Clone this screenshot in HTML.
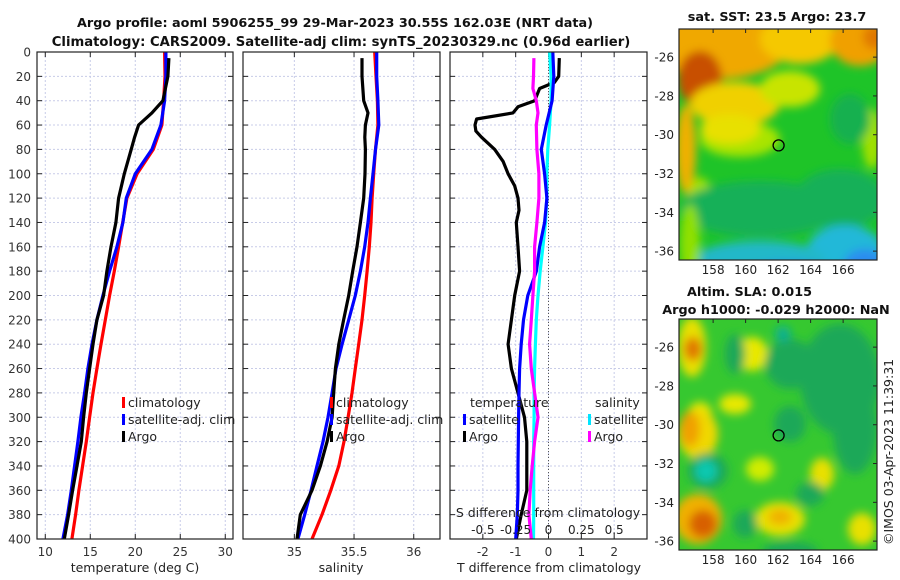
<!DOCTYPE html>
<html><head><meta charset="utf-8"><style>
body{margin:0;background:#fff}
svg{display:block;font-family:"DejaVu Sans","Liberation Sans",sans-serif}
</style></head><body>
<svg id="c" width="900" height="580" viewBox="0 0 900 580" xmlns="http://www.w3.org/2000/svg">
<defs>
<filter id="bl" x="-20%" y="-20%" width="140%" height="140%"><feGaussianBlur stdDeviation="4.5"/></filter>
<clipPath id="m1c"><rect x="679" y="29" width="198" height="231"/></clipPath>
<clipPath id="m2c"><rect x="679" y="319" width="198" height="231"/></clipPath>
<clipPath id="p1c"><rect x="37" y="52" width="196" height="487"/></clipPath>
<clipPath id="p2c"><rect x="243" y="52" width="197" height="487"/></clipPath>
<clipPath id="p3c"><rect x="450" y="52" width="197" height="487"/></clipPath>
</defs>
<text x="335" y="27" font-size="12.8" font-weight="bold" text-anchor="middle" fill="#111">Argo profile: aoml 5906255_99 29-Mar-2023 30.55S 162.03E (NRT data)</text>
<text x="341" y="46" font-size="13.2" font-weight="bold" text-anchor="middle" fill="#111">Climatology: CARS2009. Satellite-adj clim: synTS_20230329.nc (0.96d earlier)</text>
<text x="777" y="21" font-size="12.8" font-weight="bold" text-anchor="middle" fill="#111">sat. SST: 23.5 Argo: 23.7</text>
<text x="687" y="296" font-size="12.8" font-weight="bold" fill="#111">Altim. SLA: 0.015</text>
<text x="776" y="314" font-size="12.8" font-weight="bold" text-anchor="middle" fill="#111">Argo h1000: -0.029 h2000: NaN</text>
<text transform="translate(893,545) rotate(-90)" font-size="12.5" fill="#222">©IMOS 03-Apr-2023 11:39:31</text>
<g id="g"></g>
</svg>
<script>
// ---- data (depth in dbar) ----
const depths=[0,20,40,60,80,100,120,140,160,180,200,220,240,260,280,300,320,340,360,380,400];
const argoDepths=[5,20,40,50,60,70,80,100,120,140,160,180,200,220,240,260,280,300,320,340,360,380,400];
const tempClim=[23.26,23.3,23.15,22.96,22.0,20.2,19.07,18.6,18.15,17.67,17.15,16.67,16.19,15.74,15.3,14.93,14.56,14.15,13.74,13.37,12.96];
const tempSat=[23.4,23.4,23.26,22.85,21.85,20.0,19.0,18.63,17.96,17.15,16.4,15.74,15.19,14.74,14.37,13.96,13.63,13.26,12.89,12.48,11.96];
const tempArgo=[23.74,23.63,23.07,21.85,20.37,19.93,19.55,18.78,18.15,17.85,17.3,16.85,16.48,15.74,15.3,14.93,14.56,14.26,14.0,13.52,13.04,12.59,12.11];
const salClim=[35.673,35.684,35.696,35.70,35.68,35.665,35.651,35.642,35.628,35.609,35.589,35.567,35.539,35.511,35.483,35.45,35.416,35.372,35.305,35.232,35.148];
const salSat=[35.69,35.69,35.70,35.707,35.68,35.659,35.637,35.617,35.589,35.553,35.511,35.455,35.40,35.349,35.316,35.282,35.24,35.19,35.14,35.087,35.03];
const salArgo=[35.567,35.567,35.581,35.617,35.595,35.59,35.595,35.592,35.581,35.553,35.525,35.489,35.455,35.413,35.372,35.344,35.33,35.316,35.274,35.218,35.148,35.05,35.022];
const diffDepths=[5,20,25,30,40,45,50,55,60,65,70,80,90,100,110,120,130,140,160,180,200,220,240,260,280,300,320,340,360,380,400];
const tDiffArgo=[0.33,0.31,0.18,-0.27,-0.42,-0.93,-1.08,-2.19,-2.24,-2.21,-2.04,-1.64,-1.38,-1.23,-1.03,-0.93,-0.9,-0.98,-0.93,-0.88,-1.03,-1.13,-1.23,-1.13,-0.93,-0.73,-0.66,-0.66,-0.66,-0.83,-0.98];
const tDiffSat=[0.13,0.16,0.11,-0.07,-0.22,-0.12,-0.05,-0.12,-0.27,-0.37,-0.63,-0.76,-0.83,-0.88,-0.9,-0.91,-0.92,-0.93,-0.93,-0.95,-1.0];
const sDiffSat=[0.008,0.02,0.02,0.008,-0.005,-0.013,-0.013,-0.023,-0.043,-0.063,-0.08,-0.093,-0.1,-0.106,-0.11,-0.11,-0.113,-0.113,-0.113,-0.113,-0.114];
const sDiffArgoDepths=[5,20,30,40,50,60,80,100,120,140,160,180,200,220,240,260,280,300,320,340,360,380,400];
const sDiffArgo=[-0.111,-0.114,-0.119,-0.093,-0.08,-0.093,-0.088,-0.073,-0.073,-0.088,-0.106,-0.106,-0.119,-0.131,-0.144,-0.131,-0.106,-0.08,-0.106,-0.124,-0.139,-0.149,-0.131];
const depthTicks=[0,20,40,60,80,100,120,140,160,180,200,220,240,260,280,300,320,340,360,380,400];
const tempTicks=[10,15,20,25,30];
const salTicks=[35,35.5,36];
const tDiffTicks=[-2,-1,0,1,2];
const sDiffTicks=[-0.5,-0.25,0,0.25,0.5];
const lonTicks=[158,160,162,164,166];
const latTicks=[-26,-28,-30,-32,-34,-36];

const NS='http://www.w3.org/2000/svg';
const G=document.getElementById('g');
function mk(tag,at,parent){const e=document.createElementNS(NS,tag);for(const k in at)e.setAttribute(k,at[k]);(parent||G).appendChild(e);return e;}
const yD=d=>52+d*(487/400);
const P=[
 {x0:37,x1:233,v0:9.08,v1:30.86,name:'temperature-panel'},
 {x0:243,x1:440,v0:34.57,v1:36.22,name:'salinity-panel'},
 {x0:450,x1:647,v0:-3.0,v1:3.0,name:'difference-panel'}];
function xs(p,v){return p.x0+(v-p.v0)/(p.v1-p.v0)*(p.x1-p.x0);}
function sx(v){return xs(P[2],v*4);}
P.forEach((p,i)=>{
  const grp=mk('g',{});
  
  
  p.g=grp;
  depthTicks.forEach(d=>{
    const l=mk('line',{x1:p.x0,x2:p.x1,y1:yD(d),y2:yD(d),stroke:'#c8cce8','stroke-width':1,'stroke-dasharray':'2,2'},grp);
    
    mk('line',{x1:p.x1-5,x2:p.x1,y1:yD(d),y2:yD(d),stroke:'#222'},grp);
    mk('line',{x1:p.x0,x2:p.x0+5,y1:yD(d),y2:yD(d),stroke:'#222'},grp);
  });
});
depthTicks.forEach(d=>{const t=mk('text',{x:31,y:yD(d)+4.5,'font-size':12,'text-anchor':'end',fill:'#333'});t.textContent=d;
});
function xTicks(p,ticks,fx){
  ticks.forEach(v=>{const x=fx(v);
    const l=mk('line',{x1:x,x2:x,y1:52,y2:539,stroke:'#c8cce8','stroke-dasharray':'2,2'},p.g);
    
    mk('line',{x1:x,x2:x,y1:534,y2:539,stroke:'#222'},p.g);
    mk('line',{x1:x,x2:x,y1:52,y2:57,stroke:'#222'},p.g);
    const t=mk('text',{x:x,y:556,'font-size':12,'text-anchor':'middle',fill:'#333'});t.textContent=v;
    
  });
}
xTicks(P[0],tempTicks,v=>xs(P[0],v));
xTicks(P[1],salTicks,v=>xs(P[1],v));
xTicks(P[2],tDiffTicks,v=>xs(P[2],v));
mk('line',{x1:xs(P[2],0),x2:xs(P[2],0),y1:52,y2:539,stroke:'#555','stroke-dasharray':'1,2'});
function series(p,ds,vs,col,fx,name,clip){
  const pts=ds.map((d,i)=>fx(vs[i]).toFixed(1)+','+yD(d).toFixed(1)).join(' ');
  const e=mk('polyline',{points:pts,fill:'none',stroke:col,'stroke-width':3.2,'stroke-linejoin':'round','clip-path':'url(#'+clip+')'});
  
  
}
series(P[0],depths,tempClim,'#ff0000',v=>xs(P[0],v),'temp-climatology-line','p1c');
series(P[0],depths,tempSat,'#0000ff',v=>xs(P[0],v),'temp-satellite-line','p1c');
series(P[0],argoDepths,tempArgo,'#000',v=>xs(P[0],v),'temp-argo-line','p1c');
series(P[1],depths,salClim,'#ff0000',v=>xs(P[1],v),'sal-climatology-line','p2c');
series(P[1],depths,salSat,'#0000ff',v=>xs(P[1],v),'sal-satellite-line','p2c');
series(P[1],argoDepths,salArgo,'#000',v=>xs(P[1],v),'sal-argo-line','p2c');
series(P[2],diffDepths,tDiffArgo,'#000',v=>xs(P[2],v),'tdiff-argo-line','p3c');
series(P[2],depths,sDiffSat,'#00ffff',sx,'sdiff-satellite-line','p3c');
series(P[2],depths,tDiffSat,'#0000ff',v=>xs(P[2],v),'tdiff-satellite-line','p3c');
series(P[2],sDiffArgoDepths,sDiffArgo,'#ff00ff',sx,'sdiff-argo-line','p3c');
P.forEach(p=>{const r=mk('rect',{x:p.x0,y:52,width:p.x1-p.x0,height:487,fill:'none',stroke:'#222','stroke-width':1.2});});
sDiffTicks.forEach(v=>{const t=mk('text',{x:sx(v),y:534,'font-size':12,'text-anchor':'middle',fill:'#222'});t.textContent=v;
});
function txt(x,y,s,name,anchor,size){const t=mk('text',{x:x,y:y,'font-size':size||12.5,'text-anchor':anchor||'start',fill:'#222'});t.textContent=s;return t;}
txt(548,517,'S difference from climatology','s-diff-axis-title','middle');
txt(135,572,'temperature (deg C)','x-axis-title-temperature','middle');
txt(341,572,'salinity','x-axis-title-salinity','middle');
txt(549,572,'T difference from climatology','x-axis-title-tdiff','middle');
function leg(x,y,col,s,name){mk('rect',{x:x,y:y-10,width:3,height:11,fill:col});txt(x+6,y,s,name);}
leg(122,407,'#ff0000','climatology','legend-climatology');
leg(122,424,'#0000ff','satellite-adj. clim','legend-satellite-adj');
leg(122,441,'#000','Argo','legend-argo');
leg(330,407,'#ff0000','climatology','legend-climatology-2');
leg(330,424,'#0000ff','satellite-adj. clim','legend-satellite-adj-2');
leg(330,441,'#000','Argo','legend-argo-2');
txt(470,407,'temperature','legend-temperature-header');
leg(463,424,'#0000ff','satellite','legend-t-satellite');
leg(463,441,'#000','Argo','legend-t-argo');
txt(595,407,'salinity','legend-salinity-header');
leg(588,424,'#00e5ff','satellite','legend-s-satellite');
leg(588,441,'#ff00ff','Argo','legend-s-argo');

function map(y0,clip,base,blobs,name){
  const g=mk('g',{'clip-path':'url(#'+clip+')'});
  
  
  mk('rect',{x:679,y:y0,width:198,height:231,fill:base},g);
  const b=mk('g',{filter:'url(#bl)'},g);
  blobs.forEach(o=>mk('ellipse',{cx:o[0],cy:o[1]+y0,rx:o[2],ry:o[3],fill:o[4]},b));
  mk('rect',{x:679,y:y0,width:198,height:231,fill:'none',stroke:'#222','stroke-width':1.2});
  const lx=v=>679+(v-155.9)*16.25, ly=v=>y0+(-24.55-v)*19.4;
  lonTicks.forEach(v=>{mk('line',{x1:lx(v),x2:lx(v),y1:y0,y2:y0+4,stroke:'#222'});
    txt(lx(v),y0+245,v,'map-lon-label','middle',12);});
  latTicks.forEach(v=>{mk('line',{x1:873,x2:877,y1:ly(v),y2:ly(v),stroke:'#222'});
    txt(674,ly(v)+4.5,v,'map-lat-label','end',12);});
  const c=mk('circle',{cx:lx(162.03),cy:ly(-30.55),r:5.5,fill:'none',stroke:'#000','stroke-width':1.3});
  
  
}
map(29,'m1c','#1ec428',[
 [720,15,70,35,'#f0a800'],[800,10,40,25,'#f5c800'],[860,12,30,25,'#f0a000'],[875,8,12,12,'#e07800'],
 [700,50,22,28,'#c85000'],[686,120,10,45,'#f0b000'],[735,75,45,22,'#f0d000'],[790,60,30,18,'#c8e400'],
 [740,110,40,18,'#a8e400'],[730,100,30,15,'#e8e000'],[872,110,10,30,'#a0e000'],[700,170,12,22,'#a0e000'],
 [760,180,80,28,'#18b058'],[840,170,45,30,'#18b058'],[845,222,38,26,'#22b8d8'],
 [760,230,65,18,'#22b8c8'],[790,245,45,12,'#2a8cf0'],[865,238,22,18,'#2a8cf0'],
 [690,215,10,40,'#90e000'],[850,90,20,25,'#18b050']],'sst-map');
map(319,'m2c','#36c830',[
 [692,28,14,30,'#e8e000'],[693,30,9,12,'#e07800'],[752,35,16,17,'#e8e800'],[700,95,12,12,'#e8e800'],
 [840,60,40,55,'#1ca858'],[855,110,22,45,'#1ca858'],[790,45,25,25,'#1ca858'],[783,15,8,8,'#10b090'],
 [698,115,20,25,'#f0d800'],[690,110,10,18,'#f0a000'],[735,85,16,10,'#e8e800'],
 [708,152,20,18,'#1ca858'],[706,152,11,11,'#10c8b0'],
 [698,200,24,25,'#f0b000'],[703,205,14,14,'#d86000'],
 [780,200,25,17,'#e8e000'],[780,198,12,8,'#f0b000'],[822,155,12,16,'#e8e000'],[862,210,14,16,'#e8e000'],
 [745,205,12,14,'#1ca858'],[810,175,14,12,'#1ca858'],[790,232,28,9,'#1ca858'],
 [790,105,16,18,'#1ca858'],[760,150,14,12,'#d0ec00'],[735,35,10,20,'#1ca858']],'sla-map');
</script>
</body></html>
